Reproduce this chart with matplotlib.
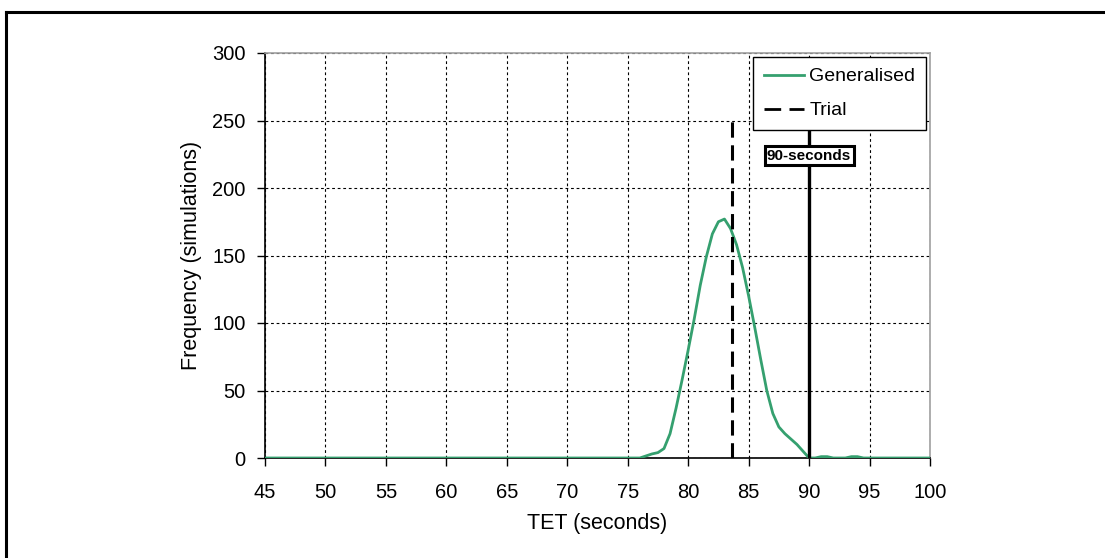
import matplotlib
matplotlib.use("Agg")
import matplotlib.pyplot as plt
from matplotlib.lines import Line2D
import numpy as np

plt.rcParams['font.family'] = ['Liberation Sans', 'DejaVu Sans']

# Data
tet_seconds = [45, 76.0, 76.5, 77.0, 77.5, 78.0, 78.5, 79.0, 79.5, 80.0, 80.5, 81.0,
               81.5, 82.0, 82.5, 83.0, 83.5, 84.0, 84.5, 85.0, 85.5, 86.0, 86.5,
               87.0, 87.5, 88.0, 88.5, 89.0, 89.5, 90.0, 90.5, 91.0, 91.5, 92.0,
               93.0, 93.5, 94.0, 94.5, 95.0, 100]
generalised = [0, 0, 1.5, 3, 4, 7, 18, 37, 58, 80, 103, 128,
               149, 166, 175, 177, 170, 158, 141, 120, 97, 73, 50,
               33, 23, 18, 14, 10, 5, 0, 0, 1, 1, 0,
               0, 1, 1, 0, 0, 0]
trial_value = 83.6
trial_height = 250
limit_value = 90
limit_height = 250
limit_label = "90-seconds"
x_ticks = [45, 50, 55, 60, 65, 70, 75, 80, 85, 90, 95, 100]
y_ticks = [0, 50, 100, 150, 200, 250, 300]

green = '#35a06f'

fig = plt.figure(figsize=(11.05, 5.58), dpi=100)
ax = fig.add_axes([265/1105, 1-458/558, (930-265)/1105, (458-53)/558])

ax.plot(tet_seconds, generalised, color=green, lw=2.0, zorder=3)
ax.vlines(trial_value, 0, trial_height, colors='black', lw=2.2,
          linestyles=(0, (5, 2.5)), zorder=4)
ax.vlines(limit_value, 0, limit_height, colors='black', lw=2.4, zorder=4)

ax.text(limit_value, 224, limit_label, ha='center', va='center', fontsize=11,
        fontweight='bold', zorder=6,
        bbox=dict(boxstyle='square,pad=0.15', fc='white', ec='black', lw=2.2))

ax.set_xlim(45, 100)
ax.set_ylim(0, 300)
ax.set_xticks(x_ticks)
ax.set_yticks(y_ticks)
ax.grid(True, color='black', lw=0.8, linestyle=(0, (2.5, 2.5)))
ax.set_axisbelow(True)

for s in ['left', 'bottom']:
    ax.spines[s].set_color('black')
    ax.spines[s].set_linewidth(1.2)
for s in ['top', 'right']:
    ax.spines[s].set_color('#a0a0a0')
    ax.spines[s].set_linewidth(1.2)

ax.tick_params(axis='x', direction='out', length=6, width=1, pad=12, labelsize=14.5)
ax.tick_params(axis='y', direction='out', length=6, width=1, pad=8, labelsize=14.5)

ax.set_xlabel('TET (seconds)', fontsize=15.5, labelpad=8)
ax.set_ylabel('Frequency (simulations)', fontsize=15.5, labelpad=7)

handles = [Line2D([0], [0], color=green, lw=2.0),
           Line2D([0], [0], color='black', lw=2.0, linestyle=(0, (6, 3)))]
leg = ax.legend(handles, ['Generalised', 'Trial'], loc='upper right',
                bbox_to_anchor=(926/1105, 1-57/558), bbox_transform=fig.transFigure,
                fontsize=14, frameon=True, fancybox=False, framealpha=1,
                edgecolor='black', borderpad=0.55, labelspacing=0.85,
                handlelength=2.1, handletextpad=0.25, borderaxespad=0)
leg.get_frame().set_linewidth(1.0)
leg.set_zorder(10)

# figure border (top and left visible)
fig.add_artist(Line2D([6/1105, 6/1105], [0, 1-12/558], transform=fig.transFigure,
                      color='black', lw=2.2))
fig.add_artist(Line2D([6/1105, 1], [1-12/558, 1-12/558], transform=fig.transFigure,
                      color='black', lw=2.2))

fig.savefig('out.png', dpi=100)
